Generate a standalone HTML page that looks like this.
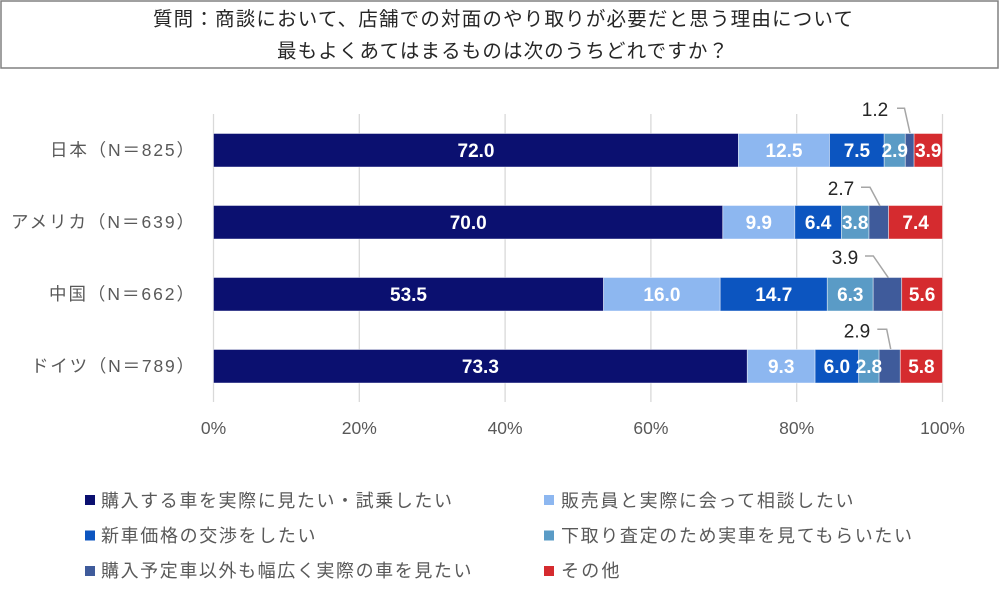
<!DOCTYPE html>
<html><head><meta charset="utf-8"><style>
html,body{margin:0;padding:0;background:#fff;}
svg{display:block;}
text{font-family:"Liberation Sans","Noto Sans CJK JP",sans-serif;}
</style></head><body>
<svg width="1000" height="602" viewBox="0 0 1000 602" xmlns="http://www.w3.org/2000/svg">
<rect x="0" y="0" width="1000" height="602" fill="#fff"/>
<!-- title box -->
<rect x="1" y="1" width="997" height="67" fill="#fff" stroke="#808080" stroke-width="1.5"/>
<text x="153" y="25.5" font-size="19.5" fill="#262626" textLength="700" lengthAdjust="spacing">質問：商談において、店舗での対面のやり取りが必要だと思う理由について</text>
<text x="277" y="57.5" font-size="19.5" fill="#262626" textLength="451" lengthAdjust="spacing">最もよくあてはまるものは次のうちどれですか？</text>

<!-- gridlines -->
<g stroke="#d9d9d9" stroke-width="1.3">
<line x1="213.5" y1="114" x2="213.5" y2="402"/>
<line x1="359.3" y1="114" x2="359.3" y2="402"/>
<line x1="505.1" y1="114" x2="505.1" y2="402"/>
<line x1="650.9" y1="114" x2="650.9" y2="402"/>
<line x1="796.7" y1="114" x2="796.7" y2="402"/>
<line x1="942.5" y1="114" x2="942.5" y2="402"/>
</g>

<!-- bars -->
<g stroke="#ffffff" stroke-opacity="0.55" stroke-width="0.8">
<rect x="213.5" y="133.5" width="524.9" height="33.5" fill="#0b1070"/>
<rect x="738.4" y="133.5" width="91.1" height="33.5" fill="#8db7f0"/>
<rect x="829.5" y="133.5" width="54.7" height="33.5" fill="#0c55c0"/>
<rect x="884.2" y="133.5" width="21.1" height="33.5" fill="#5a9bc6"/>
<rect x="905.3" y="133.5" width="8.8" height="33.5" fill="#3f5b9b"/>
<rect x="914.1" y="133.5" width="28.4" height="33.5" fill="#d52b2f"/>

<rect x="213.5" y="205.5" width="509.3" height="33.5" fill="#0b1070"/>
<rect x="722.8" y="205.5" width="72" height="33.5" fill="#8db7f0"/>
<rect x="794.8" y="205.5" width="46.6" height="33.5" fill="#0c55c0"/>
<rect x="841.4" y="205.5" width="27.6" height="33.5" fill="#5a9bc6"/>
<rect x="869" y="205.5" width="19.6" height="33.5" fill="#3f5b9b"/>
<rect x="888.6" y="205.5" width="53.9" height="33.5" fill="#d52b2f"/>

<rect x="213.5" y="277.5" width="390" height="33.5" fill="#0b1070"/>
<rect x="603.5" y="277.5" width="116.7" height="33.5" fill="#8db7f0"/>
<rect x="720.2" y="277.5" width="107.1" height="33.5" fill="#0c55c0"/>
<rect x="827.3" y="277.5" width="45.9" height="33.5" fill="#5a9bc6"/>
<rect x="873.2" y="277.5" width="28.5" height="33.5" fill="#3f5b9b"/>
<rect x="901.7" y="277.5" width="40.8" height="33.5" fill="#d52b2f"/>

<rect x="213.5" y="349.5" width="533.8" height="33.5" fill="#0b1070"/>
<rect x="747.3" y="349.5" width="67.8" height="33.5" fill="#8db7f0"/>
<rect x="815.1" y="349.5" width="43.6" height="33.5" fill="#0c55c0"/>
<rect x="858.7" y="349.5" width="20.4" height="33.5" fill="#5a9bc6"/>
<rect x="879.1" y="349.5" width="21.2" height="33.5" fill="#3f5b9b"/>
<rect x="900.3" y="349.5" width="42.2" height="33.5" fill="#d52b2f"/>
</g>

<!-- data labels -->
<g font-size="19" font-weight="bold" fill="#fff" text-anchor="middle">
<text x="476" y="157">72.0</text>
<text x="784" y="157">12.5</text>
<text x="856.9" y="157">7.5</text>
<text x="894.8" y="157">2.9</text>
<text x="928.3" y="157">3.9</text>

<text x="468.2" y="229">70.0</text>
<text x="758.8" y="229">9.9</text>
<text x="818.1" y="229">6.4</text>
<text x="855.2" y="229">3.8</text>
<text x="915.6" y="229">7.4</text>

<text x="408.5" y="301">53.5</text>
<text x="661.9" y="301">16.0</text>
<text x="773.8" y="301">14.7</text>
<text x="850.3" y="301">6.3</text>
<text x="922.1" y="301">5.6</text>

<text x="480.4" y="373">73.3</text>
<text x="781.2" y="373">9.3</text>
<text x="836.9" y="373">6.0</text>
<text x="868.9" y="373">2.8</text>
<text x="921.4" y="373">5.8</text>
</g>

<!-- callouts -->
<g fill="none" stroke="#a6a6a6" stroke-width="1.5">
<polyline points="897,108.3 904.5,108.3 910,133"/>
<polyline points="861,187.3 870,187.3 880,206"/>
<polyline points="865,256 873.3,256 888.3,277.7"/>
<polyline points="877.3,329.3 886.7,329.3 890.7,349"/>
</g>
<g font-size="19" fill="#262626" text-anchor="middle">
<text x="875" y="116">1.2</text>
<text x="841" y="195">2.7</text>
<text x="845" y="264">3.9</text>
<text x="857" y="337.3">2.9</text>
</g>

<!-- category labels -->
<g font-size="17.5" fill="#595959">
<text x="50" y="156" textLength="144" lengthAdjust="spacing">日本（N＝825）</text>
<text x="11" y="228" textLength="183" lengthAdjust="spacing">アメリカ（N＝639）</text>
<text x="49" y="300" textLength="145" lengthAdjust="spacing">中国（N＝662）</text>
<text x="31" y="372" textLength="163" lengthAdjust="spacing">ドイツ（N＝789）</text>
</g>

<!-- x tick labels -->
<g font-size="17.5" fill="#595959" text-anchor="middle">
<text x="213.5" y="434">0%</text>
<text x="359.3" y="434">20%</text>
<text x="505.1" y="434">40%</text>
<text x="650.9" y="434">60%</text>
<text x="796.7" y="434">80%</text>
<text x="942.5" y="434">100%</text>
</g>

<!-- legend -->
<rect x="85" y="495" width="10" height="10" fill="#0b1070"/>
<rect x="85" y="530.5" width="10" height="10" fill="#0c55c0"/>
<rect x="85" y="566" width="10" height="10" fill="#3f5b9b"/>
<rect x="544" y="495" width="10" height="10" fill="#8db7f0"/>
<rect x="544" y="530.5" width="10" height="10" fill="#5a9bc6"/>
<rect x="544" y="566" width="10" height="10" fill="#d52b2f"/>
<g font-size="18" fill="#595959">
<text x="101" y="507" textLength="351" lengthAdjust="spacing">購入する車を実際に見たい・試乗したい</text>
<text x="101" y="542" textLength="214.5" lengthAdjust="spacing">新車価格の交渉をしたい</text>
<text x="101" y="577" textLength="370.5" lengthAdjust="spacing">購入予定車以外も幅広く実際の車を見たい</text>
<text x="561" y="507" textLength="292.5" lengthAdjust="spacing">販売員と実際に会って相談したい</text>
<text x="561" y="542" textLength="351" lengthAdjust="spacing">下取り査定のため実車を見てもらいたい</text>
<text x="561" y="577" textLength="58.5" lengthAdjust="spacing">その他</text>
</g>
</svg>
</body></html>
